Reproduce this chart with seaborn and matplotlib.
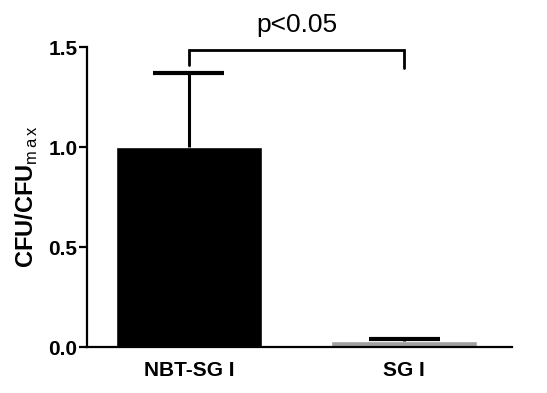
import numpy as np
import pandas as pd
import matplotlib
matplotlib.use('Agg')
import matplotlib.pyplot as plt
import seaborn as sns

groups = ['NBT-SG I', 'SG I']
means = [1.0, 0.03]
sem_up = [0.37, 0.01]
bar_colors = ['#000000', '#a0a0a0']
p_text = 'p<0.05'

sns.set_style('ticks', {'axes.edgecolor': 'black', 'text.color': 'black',
                        'xtick.color': 'black', 'ytick.color': 'black',
                        'axes.labelcolor': 'black'})
plt.rcParams['font.family'] = ['Liberation Sans', 'DejaVu Sans']
plt.rcParams['mathtext.fontset'] = 'custom'
plt.rcParams['mathtext.rm'] = 'Liberation Sans'

df = pd.DataFrame({'group': groups, 'value': means})

fig = plt.figure(figsize=(5.47, 3.93), dpi=100)
ax = fig.add_axes([0.159, 0.117, 0.777, 0.763])

sns.barplot(data=df, x='group', y='value', hue='group', palette=bar_colors,
            width=0.68, legend=False, ax=ax, errorbar=None)

# one-sided (upper) error bars
x = np.arange(len(groups))
tops = np.array(means) + np.array(sem_up)
ax.vlines(x, means, tops, color='black', lw=2.2, zorder=5)
ax.hlines(tops, x - 0.165, x + 0.165, color='black', lw=3, zorder=5)

ax.set_ylim(0, 1.5)
ax.set_xlim(-0.474, 1.502)
ax.set_yticks([0, 0.5, 1.0, 1.5])
ax.set_yticklabels(['0.0', '0.5', '1.0', '1.5'], fontsize=15, fontweight='bold')
ax.set_xticks(x)
ax.set_xticklabels(groups, fontsize=15, fontweight='bold')
ax.tick_params(axis='x', length=0, pad=10)
ax.tick_params(axis='y', length=6, width=1.6, pad=1)
ax.set_xlabel('')
ax.set_ylabel(r'CFU/CFU$_{\mathrm{m\,a\,x}}$', fontsize=17, fontweight='bold', labelpad=6)

sns.despine(ax=ax)
for s in ['left', 'bottom']:
    ax.spines[s].set_linewidth(1.6)

# significance bracket
ax.plot([x[0], x[0], x[1], x[1]], [1.41, 1.485, 1.485, 1.395], color='black',
        lw=2, clip_on=False, solid_joinstyle='miter')
ax.text((x[0] + x[1]) / 2, 1.55, p_text, ha='center', va='bottom', fontsize=19)

fig.savefig('out.png', dpi=100)
